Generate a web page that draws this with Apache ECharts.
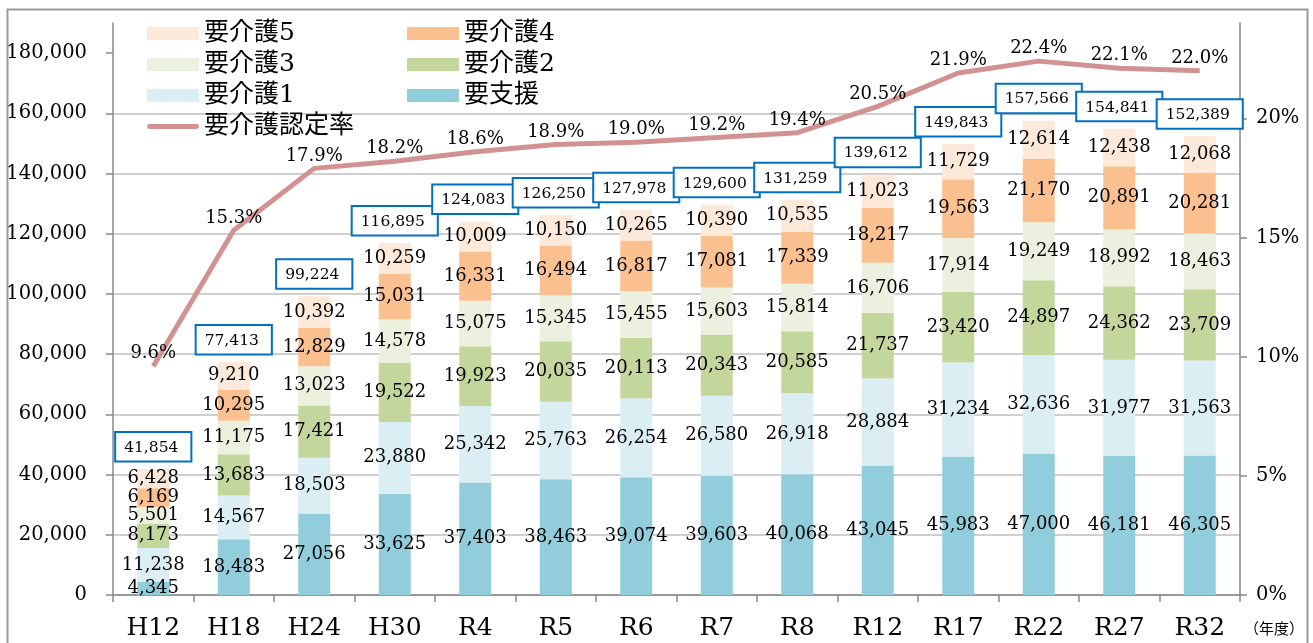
<!DOCTYPE html>
<html>
<head>
<meta charset="utf-8">
<script src="https://cdn.jsdelivr.net/npm/echarts@6/dist/echarts.min.js"></script>
<style>
html,body{margin:0;padding:0;background:#fff;}
#chart{width:1313px;height:643px;}
</style>
</head>
<body>
<div id="chart"></div>
<script>
const categories = ['H12','H18','H24','H30','R4','R5','R6','R7','R8','R12','R17','R22','R27','R32'];
const youShien = [4345,18483,27056,33625,37403,38463,39074,39603,40068,43045,45983,47000,46181,46305];
const youKaigo1 = [11238,14567,18503,23880,25342,25763,26254,26580,26918,28884,31234,32636,31977,31563];
const youKaigo2 = [8173,13683,17421,19522,19923,20035,20113,20343,20585,21737,23420,24897,24362,23709];
const youKaigo3 = [5501,11175,13023,14578,15075,15345,15455,15603,15814,16706,17914,19249,18992,18463];
const youKaigo4 = [6169,10295,12829,15031,16331,16494,16817,17081,17339,18217,19563,21170,20891,20281];
const youKaigo5 = [6428,9210,10392,10259,10009,10150,10265,10390,10535,11023,11729,12614,12438,12068];
const totals = [41854,77413,99224,116895,124083,126250,127978,129600,131259,139612,149843,157566,154841,152389];
const ninteiRate = [9.6,15.3,17.9,18.2,18.6,18.9,19.0,19.2,19.4,20.5,21.9,22.4,22.1,22.0];
const leftTicks = [0,20000,40000,60000,80000,100000,120000,140000,160000,180000];
const rightTicks = [0,5,10,15,20];

const FONT = "'DejaVu Serif', 'Noto Sans CJK JP', serif";
const fmt = v => Number(v).toLocaleString('en-US');

const stackDefs = [
  ['要支援', youShien, '#92CDDC'],
  ['要介護1', youKaigo1, '#DAEEF3'],
  ['要介護2', youKaigo2, '#C3D69B'],
  ['要介護3', youKaigo3, '#EBF1DE'],
  ['要介護4', youKaigo4, '#FAC090'],
  ['要介護5', youKaigo5, '#FDE9D9']
];

const series = stackDefs.map(([name, data, color]) => ({
  name, type: 'bar', stack: 'total', data, barWidth: 32,
  itemStyle: { color },
  label: {
    show: true, position: 'inside', color: '#000',
    fontFamily: FONT, fontSize: 18,
    formatter: p => fmt(p.value)
  },
  emphasis: { disabled: true }
}));

series.push({
  name: '合計', type: 'line', data: totals, yAxisIndex: 0,
  symbol: 'circle', symbolSize: 1, showSymbol: true,
  itemStyle: { color: 'rgba(0,0,0,0)' },
  lineStyle: { opacity: 0 }, z: 5,
  label: {
    show: true, position: 'top', distance: 8,
    fontFamily: FONT, fontSize: 15.5, color: '#000',
    backgroundColor: '#fff', borderColor: '#0070C0', borderWidth: 2,
    padding: [7, 12, 5, 8],
    formatter: p => fmt(p.value)
  },
  emphasis: { disabled: true }
});

series.push({
  name: '要介護認定率', type: 'line', data: ninteiRate, yAxisIndex: 1,
  symbol: 'circle', symbolSize: 1, showSymbol: true, z: 6,
  lineStyle: { color: '#D39292', width: 5 },
  itemStyle: { color: 'rgba(211,146,146,0)' },
  label: {
    show: true, position: 'top', distance: 3,
    fontFamily: FONT, fontSize: 18, color: '#000',
    formatter: p => p.value.toFixed(1) + '%'
  },
  emphasis: { disabled: true }
});

const legendCommon = {
  orient: 'vertical', top: 21, padding: 0, itemWidth: 52, itemHeight: 13, itemGap: 6,
  textStyle: { fontFamily: FONT, fontSize: 25, color: '#000', lineHeight: 25 },
  selectedMode: false, icon: 'rect'
};

const option = {
  animation: false,
  backgroundColor: '#fff',
  grid: { left: 113, right: 73, top: 23, bottom: 48 },
  legend: [
    Object.assign({}, legendCommon, { left: 147, data: [
      {name:'要介護5'},{name:'要介護3'},{name:'要介護1'},
      {name:'要介護認定率', icon: 'path://M2,0 L50,0 A2.5,2.5 0 0 1 50,5 L2,5 A2.5,2.5 0 0 1 2,0 Z', itemStyle: { color: '#D39292' }}
    ]}),
    Object.assign({}, legendCommon, { left: 407, data: ['要介護4','要介護2','要支援'] })
  ],
  xAxis: {
    type: 'category', data: categories, boundaryGap: true,
    axisLine: { lineStyle: { color: '#888', width: 1.5 } },
    axisTick: { show: true, length: 7, lineStyle: { color: '#888', width: 1.5 } },
    axisLabel: { fontFamily: FONT, fontSize: 25, color: '#000', margin: 21 }
  },
  yAxis: [
    {
      type: 'value', min: 0, max: 190000, interval: 20000,
      axisLine: { show: true, lineStyle: { color: '#888', width: 1.5 } },
      axisTick: { show: true, length: 7, lineStyle: { color: '#888', width: 1.5 }, customValues: leftTicks },
      axisLabel: { fontFamily: FONT, fontSize: 19.5, color: '#000', margin: 26,
        customValues: leftTicks, formatter: v => fmt(v) },
      splitLine: { show: true, showMaxLine: false, lineStyle: { color: '#BFBFBF', width: 1.5 } }
    },
    {
      type: 'value', min: 0, max: 24, interval: 5, position: 'right',
      axisLine: { show: true, lineStyle: { color: '#888', width: 1.5 } },
      axisTick: { show: true, length: 7, lineStyle: { color: '#888', width: 1.5 }, customValues: rightTicks },
      axisLabel: { fontFamily: FONT, fontSize: 19.5, color: '#000', margin: 16,
        customValues: rightTicks, formatter: v => v + '%' },
      splitLine: { show: false }
    }
  ],
  graphic: [
    { type: 'rect', left: 5, top: 7, shape: { width: 1300, height: 660 },
      style: { fill: 'none', stroke: '#9a9a9a', lineWidth: 2 }, silent: true, z: -1 },
    { type: 'text', left: 1244, top: 621,
      style: { text: '（年度）', font: "15px 'Noto Sans CJK JP'", fill: '#000' } }
  ],
  series
};

const chart = echarts.init(document.getElementById('chart'), null, { renderer: 'canvas' });
chart.setOption(option);
</script>
</body>
</html>
